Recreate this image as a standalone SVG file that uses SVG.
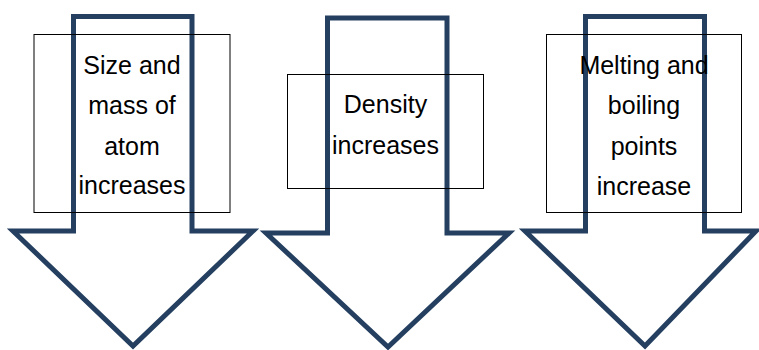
<svg xmlns="http://www.w3.org/2000/svg" width="759" height="350" viewBox="0 0 759 350">
<style>
.arrow{fill:#fff;stroke:#243F60;stroke-width:5;stroke-linejoin:miter;stroke-miterlimit:10}
.box{fill:none;stroke:#000;stroke-width:1}
.lbl{font-family:"Liberation Sans",Arial,sans-serif;font-size:25px;fill:#000;text-anchor:middle}
</style>
<rect width="759" height="350" fill="#fff"/>
<g id="node1">
<path class="arrow" d="M73.5,16.5 H192 V231 H253 L133,346 L13,231 H73.5 Z"/>
<rect class="box" x="34" y="34.5" width="196" height="178"/>
<text class="lbl" x="132" y="74">Size and</text>
<text class="lbl" x="132" y="114">mass of</text>
<text class="lbl" x="132" y="155">atom</text>
<text class="lbl" x="132" y="194">increases</text>
</g>
<g id="node2">
<path class="arrow" d="M327.5,18 H447 V233 H509 L388,347 L266,233 H327.5 Z"/>
<rect class="box" x="287.5" y="74.5" width="196" height="114"/>
<text class="lbl" x="385.5" y="113">Density</text>
<text class="lbl" x="385.5" y="154">increases</text>
</g>
<g id="node3">
<path class="arrow" d="M585.5,16.5 H704.5 V231 H756 L645,346 L525,231 H585.5 Z"/>
<rect class="box" x="546.5" y="34.5" width="195" height="178"/>
<text class="lbl" x="644" y="74">Melting and</text>
<text class="lbl" x="644" y="114">boiling</text>
<text class="lbl" x="644" y="155">points</text>
<text class="lbl" x="644" y="195">increase</text>
</g>
<g id="connectors"></g>
</svg>
